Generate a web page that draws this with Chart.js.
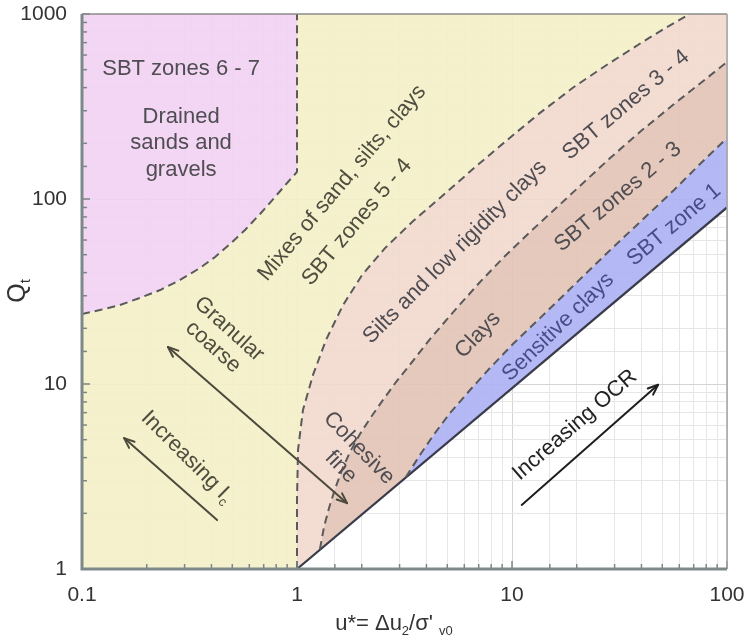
<!DOCTYPE html>
<html>
<head>
<meta charset="utf-8">
<script src="https://cdn.jsdelivr.net/npm/chart.js@4.4.1/dist/chart.umd.min.js"></script>
<style>
  html, body { margin: 0; padding: 0; background: #ffffff; }
  #wrap { width: 748px; height: 637px; }
</style>
</head>
<body>
<div id="wrap"><canvas id="c" width="748" height="637"></canvas></div>
<script>
// Normalised cone resistance Q_t against normalised excess pore pressure u*
// Zone boundaries, each as u* values and the matching Q_t values.
const drainedEdgeU = [0.1, 0.121, 0.15, 0.186, 0.231, 0.286, 0.354, 0.416, 0.488, 0.573, 0.673, 0.79, 0.908, 1];
const drainedEdgeQ = [23.9, 25.1, 26.7, 29.2, 32.2, 36.5, 42.4, 48.6, 57.1, 68, 83, 102.5, 123.6, 140];

const mixesEdgeU = [1, 1, 1.011, 1.066, 1.187, 1.364, 1.637, 2.006, 2.566, 3.43, 4.68, 6.66, 9.48, 13.5, 19.4, 28, 39.8, 52.6, 67];
const mixesEdgeQ = [1, 2.36, 4.4, 7.24, 11.2, 17.3, 26.7, 38.8, 54.3, 75.1, 102.5, 147, 208, 292, 403, 537, 697, 850, 1000];

const siltEdgeU = [1.279, 1.335, 1.409, 1.502, 1.619, 1.764, 1.963, 2.21, 2.512, 2.887, 3.43, 4.155, 5.43, 7.1, 9.28, 12.13, 15.85, 20.7, 28.6, 39.8, 56.7, 80.7, 100];
const siltEdgeQ = [1.283, 1.687, 2.137, 2.706, 3.43, 4.29, 5.37, 6.63, 8.2, 10.25, 13.15, 17.5, 25.1, 35.6, 49.2, 66.3, 88.3, 117.6, 166.5, 233, 326, 451, 550];

const clayEdgeU = [3.21, 3.73, 4.38, 5.15, 6.38, 7.9, 10.1, 13.5, 18.6, 27.7, 39.4, 56.7, 74.9, 100];
const clayEdgeQ = [3.14, 4.13, 5.43, 6.97, 9.28, 12.2, 16.45, 22.7, 32.6, 51.1, 75.1, 111.8, 154.6, 213.6];

const lowerLimitU = [1, 100];
const lowerLimitQ = [1, 90];

// Axis ranges and decade labels
const uRange = [0.1, 100];
const qRange = [1, 1000];
const uTickLabels = ['0.1', '1', '10', '100'];
const qTickLabels = ['1', '10', '100', '1000'];

// Trend arrows: [start u, start Q, end u, end Q]
const granularArrow = [0.251, 15.85, 1.71, 2.27];
const icArrow = [0.425, 1.84, 0.157, 5.1];
const ocrArrow = [11.1, 2.22, 47.8, 9.9];

const FONT = '"Liberation Sans", Arial, Helvetica, sans-serif';

const pts = (us, qs) => us.map((u, i) => ({ x: u, y: qs[i] }));
const rev = a => a.slice().reverse();

const drainedEdge = pts(drainedEdgeU, drainedEdgeQ);
const mixesEdge = pts(mixesEdgeU, mixesEdgeQ);
const siltEdge = pts(siltEdgeU, siltEdgeQ);
const clayEdge = pts(clayEdgeU, clayEdgeQ);
const lowerLimit = pts(lowerLimitU, lowerLimitQ);

const uMin = uRange[0], uMax = uRange[1], qMin = qRange[0], qMax = qRange[1];

// Closed zone outlines built from the shared boundaries
const zoneDrained = [...drainedEdge, { x: 1, y: qMax }, { x: uMin, y: qMax }];
const zoneMixes = [{ x: uMin, y: qMin }, ...drainedEdge, { x: 1, y: qMax }, ...rev(mixesEdge)];
const zoneSilts = [...mixesEdge, { x: uMax, y: qMax }, ...rev(siltEdge)];
const zoneClays = [...siltEdge, ...rev(clayEdge)];
const zoneSensitive = [...clayEdge, lowerLimit[lowerLimit.length - 1]];

// A fill colour that, drawn at the given opacity on white, shows the given shade
function tint(hex, a) {
  const n = parseInt(hex.slice(1), 16);
  const c = [(n >> 16) & 255, (n >> 8) & 255, n & 255].map(v => Math.max(0, Math.min(255, Math.round((v - (1 - a) * 255) / a))));
  return `rgba(${c[0]},${c[1]},${c[2]},${a})`;
}

function zone(data, hex) {
  return {
    data, showLine: true, fill: 'shape', tension: 0,
    backgroundColor: tint(hex, 0.9), borderColor: 'rgba(0,0,0,0)',
    pointRadius: 0, order: 10
  };
}
function boundary(data, dashed) {
  return {
    data, showLine: true, fill: false, tension: 0,
    borderColor: dashed ? '#5a5a5a' : '#3a3b4a', borderWidth: dashed ? 2 : 2.2,
    borderDash: dashed ? [8, 5] : [], pointRadius: 0, order: 1
  };
}

const isDecade = v => Math.abs(Math.log10(v) - Math.round(Math.log10(v))) < 1e-6;
const labelFor = (v, list) => list.find(l => Math.abs(Math.log10(parseFloat(l)) - Math.log10(v)) < 1e-6) || '';

// Zone names and notes, placed in (u*, Q_t) coordinates
const GREY = '#4f4d52', OLIVE = '#4e4d3f', BLUE = '#474d86';
const notes = [
  { parts: [{ t: 'SBT zones 6 - 7' }], u: 0.289, q: 504, a: 0, c: GREY },
  { parts: [{ t: 'Drained' }], u: 0.289, q: 277, a: 0, c: GREY },
  { parts: [{ t: 'sands and' }], u: 0.289, q: 201, a: 0, c: GREY },
  { parts: [{ t: 'gravels' }], u: 0.289, q: 143.5, a: 0, c: GREY },
  { parts: [{ t: 'Mixes of sand, silts, clays' }], u: 1.62, q: 122, a: -50, c: OLIVE },
  { parts: [{ t: 'SBT zones 5 - 4' }], u: 1.90, q: 75, a: -50, c: OLIVE },
  { parts: [{ t: 'Silts and low rigidity clays' }], u: 5.43, q: 51.7, a: -45, c: GREY },
  { parts: [{ t: 'SBT zones 3 - 4' }], u: 33.9, q: 322, a: -40, c: GREY },
  { parts: [{ t: 'SBT zones 2 - 3' }], u: 31.1, q: 102.5, a: -40, c: GREY },
  { parts: [{ t: 'Clays' }], u: 6.95, q: 18.4, a: -46, c: GREY },
  { parts: [{ t: 'Sensitive clays' }], u: 16.4, q: 20.3, a: -44, c: BLUE },
  { parts: [{ t: 'SBT zone 1' }], u: 56.7, q: 72.4, a: -40, c: BLUE },
  { parts: [{ t: 'Increasing OCR' }], u: 19.6, q: 6.0, a: -41, c: '#222222' },
  { parts: [{ t: 'Increasing I' }, { t: 'c', sub: true }], u: 0.308, q: 4.03, a: 45, c: OLIVE },
  { parts: [{ t: 'Granular' }], u: 0.483, q: 19.8, a: 42, c: OLIVE },
  { parts: [{ t: 'coarse' }], u: 0.407, q: 15.85, a: 42, c: OLIVE },
  { parts: [{ t: 'Cohesive' }], u: 1.943, q: 4.51, a: 46, c: GREY },
  { parts: [{ t: 'fine' }], u: 1.60, q: 3.56, a: 46, c: GREY }
];

function drawRich(ctx, parts, cx, cy, angle, size, color) {
  ctx.save();
  ctx.translate(cx, cy);
  ctx.rotate(angle * Math.PI / 180);
  ctx.fillStyle = color;
  ctx.textBaseline = 'middle';
  ctx.textAlign = 'left';
  const sub = Math.round(size * 0.6);
  let total = 0;
  parts.forEach(p => {
    ctx.font = `${p.sub ? sub : size}px ${FONT}`;
    p.w = ctx.measureText(p.t).width;
    total += p.w;
  });
  let x = -total / 2;
  parts.forEach(p => {
    ctx.font = `${p.sub ? sub : size}px ${FONT}`;
    ctx.fillText(p.t, x, p.sub ? size * 0.32 : 0);
    x += p.w;
  });
  ctx.restore();
}

function arrowHead(ctx, x0, y0, x1, y1, len, spread) {
  const ang = Math.atan2(y1 - y0, x1 - x0);
  ctx.beginPath();
  ctx.moveTo(x1 - len * Math.cos(ang - spread), y1 - len * Math.sin(ang - spread));
  ctx.lineTo(x1, y1);
  ctx.lineTo(x1 - len * Math.cos(ang + spread), y1 - len * Math.sin(ang + spread));
  ctx.stroke();
}

const overlay = {
  id: 'overlay',
  afterDatasetsDraw(chart) {
    const ctx = chart.ctx, xs = chart.scales.x, ys = chart.scales.y;
    const X = u => xs.getPixelForValue(u), Y = q => ys.getPixelForValue(q);

    // trend arrows
    const arrows = [
      { a: granularArrow, both: true, c: '#4b4a3c' },
      { a: icArrow, both: false, c: '#4b4a3c' },
      { a: ocrArrow, both: false, c: '#1e1e1e' }
    ];
    arrows.forEach(({ a, both, c }) => {
      const x0 = X(a[0]), y0 = Y(a[1]), x1 = X(a[2]), y1 = Y(a[3]);
      ctx.save();
      ctx.strokeStyle = c;
      ctx.lineWidth = 2;
      ctx.lineCap = 'round';
      ctx.lineJoin = 'round';
      ctx.beginPath();
      ctx.moveTo(x0, y0);
      ctx.lineTo(x1, y1);
      ctx.stroke();
      arrowHead(ctx, x0, y0, x1, y1, 11, 0.38);
      if (both) arrowHead(ctx, x1, y1, x0, y0, 11, 0.38);
      ctx.restore();
    });

    notes.forEach(n => drawRich(ctx, n.parts, X(n.u), Y(n.q), n.a, 22, n.c));
  },
  afterDraw(chart) {
    const ctx = chart.ctx, a = chart.chartArea, xs = chart.scales.x, ys = chart.scales.y;
    ctx.save();
    // inward tick marks
    ctx.strokeStyle = '#7b8686';
    ctx.lineWidth = 1.5;
    xs.ticks.forEach(t => {
      const px = xs.getPixelForValue(t.value);
      const len = isDecade(t.value) ? 8 : 5;
      ctx.beginPath();
      ctx.moveTo(px, a.bottom);
      ctx.lineTo(px, a.bottom - len);
      ctx.stroke();
    });
    ys.ticks.forEach(t => {
      const py = ys.getPixelForValue(t.value);
      const len = isDecade(t.value) ? 8 : 5;
      ctx.beginPath();
      ctx.moveTo(a.left, py);
      ctx.lineTo(a.left + len, py);
      ctx.stroke();
    });
    // frame: thin top and right, heavier left and bottom axes
    ctx.lineWidth = 1.5;
    ctx.strokeStyle = '#8c8c8c';
    ctx.beginPath(); ctx.moveTo(a.left, a.top); ctx.lineTo(a.right, a.top); ctx.stroke();
    ctx.strokeStyle = '#a4a4a4';
    ctx.beginPath(); ctx.moveTo(a.right, a.top); ctx.lineTo(a.right, a.bottom); ctx.stroke();
    ctx.lineWidth = 3;
    ctx.strokeStyle = '#7d8989';
    ctx.beginPath(); ctx.moveTo(a.left, a.top); ctx.lineTo(a.left, a.bottom); ctx.lineTo(a.right, a.bottom); ctx.stroke();
    ctx.restore();

    // axis titles
    drawRich(ctx, [{ t: 'u*= Δu' }, { t: '2', sub: true }, { t: '/σ\' ' }, { t: 'v0', sub: true }],
      394, 624, 0, 22, '#333333');
    drawRich(ctx, [{ t: 'Q' }, { t: 't', sub: true }], 18, 291, -90, 25, '#333333');
  }
};

const gridColour = c => isDecade(c.tick.value) ? '#d4d4d4' : '#e6e6e6';

new Chart(document.getElementById('c'), {
  type: 'scatter',
  data: {
    datasets: [
      boundary([...drainedEdge, { x: 1, y: qMax }], true),
      boundary(mixesEdge, true),
      boundary(siltEdge, true),
      boundary(clayEdge, true),
      boundary(lowerLimit, false),
      zone(zoneDrained, '#f2d6f3'),
      zone(zoneMixes, '#f4f1cc'),
      zone(zoneSilts, '#f3ddd3'),
      zone(zoneClays, '#e5c9bd'),
      zone(zoneSensitive, '#b4b8f5')
    ]
  },
  options: {
    responsive: false,
    animation: false,
    devicePixelRatio: 1,
    layout: { padding: { top: 14, right: 21, left: 0, bottom: 0 } },
    plugins: { legend: { display: false }, tooltip: { enabled: false } },
    events: [],
    scales: {
      x: {
        type: 'logarithmic', min: uMin, max: uMax,
        grid: { color: gridColour, drawTicks: false, lineWidth: 1 },
        border: { display: false },
        ticks: {
          autoSkip: false, maxRotation: 0, padding: 14, color: '#333333',
          font: { size: 21, family: FONT },
          callback: v => labelFor(v, uTickLabels)
        },
        afterFit: s => { s.height = 68; s.paddingLeft = 0; s.paddingRight = 0; }
      },
      y: {
        type: 'logarithmic', min: qMin, max: qMax,
        grid: { color: gridColour, drawTicks: false, lineWidth: 1 },
        border: { display: false },
        ticks: {
          autoSkip: false, padding: 15, color: '#333333',
          font: { size: 21, family: FONT },
          callback: v => labelFor(v, qTickLabels)
        },
        afterFit: s => { s.width = 82; s.paddingTop = 0; s.paddingBottom = 0; }
      }
    }
  },
  plugins: [overlay]
});
</script>
</body>
</html>
